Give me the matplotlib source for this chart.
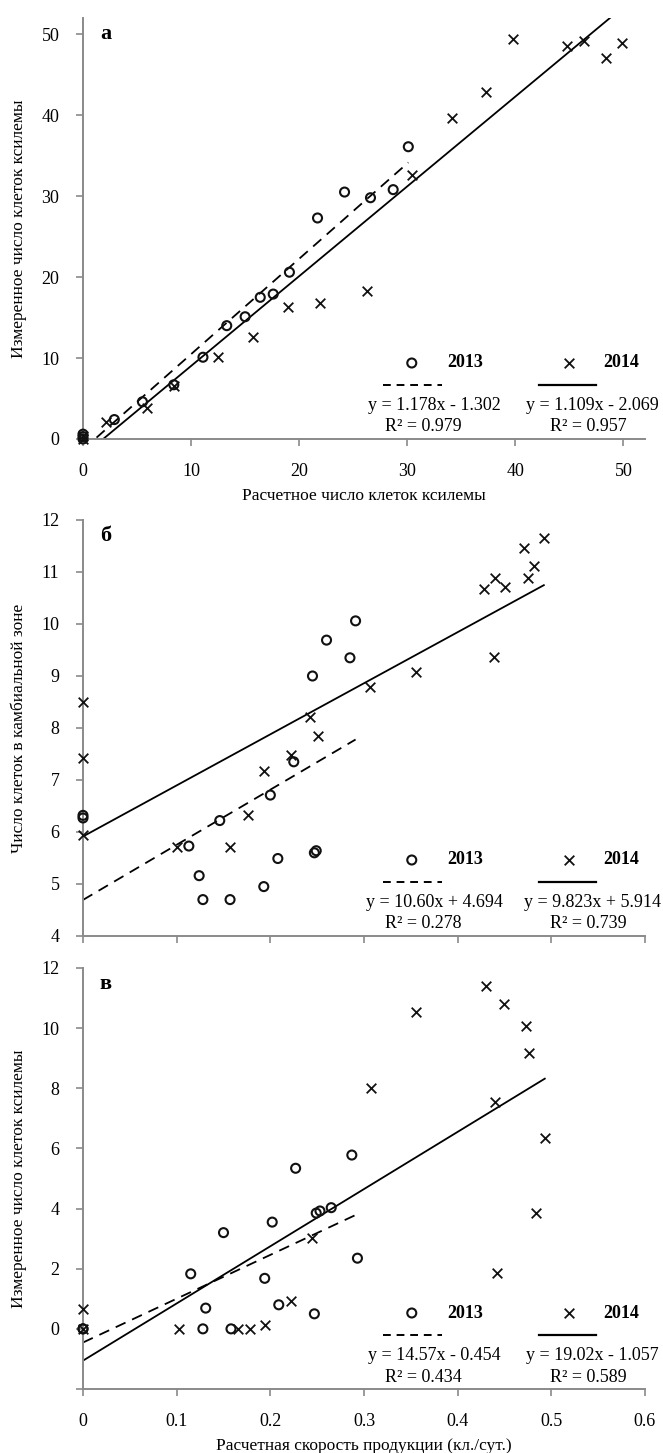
import matplotlib
matplotlib.use('Agg')
import matplotlib.pyplot as plt
import numpy as np

plt.rcParams['font.family'] = ['Liberation Serif', 'DejaVu Serif']

# ---------------- Panel а ----------------
a_x13 = [0, 0, 0, 2.9, 5.5, 8.4, 11.1, 13.3, 15.0, 16.4, 17.6, 19.1, 21.7, 24.2, 26.6, 28.7, 30.1]
a_y13 = [0, 0.3, 0.6, 2.4, 4.6, 6.7, 10.1, 14.0, 15.1, 17.5, 17.9, 20.6, 27.3, 30.5, 29.8, 30.8, 36.1]
a_x14 = [0, 0, 2.1, 5.9, 8.4, 12.5, 15.7, 19.0, 21.9, 26.3, 30.4, 34.1, 37.3, 39.8, 44.8, 46.4, 48.4, 49.9]
a_y14 = [0, 0.4, 2.1, 3.8, 6.5, 10.1, 12.6, 16.3, 16.8, 18.3, 32.6, 39.6, 42.9, 49.4, 48.6, 49.2, 47.0, 48.9]
a_coef13 = (1.178, -1.302)
a_coef14 = (1.109, -2.069)
a_eq13 = ["y = 1.178x - 1.302", "R² = 0.979"]
a_eq14 = ["y = 1.109x - 2.069", "R² = 0.957"]
a_xticks = [0, 10, 20, 30, 40, 50]
a_yticks = [0, 10, 20, 30, 40, 50]

# ---------------- Panel б ----------------
b_x13 = [0, 0, 0.113, 0.124, 0.128, 0.146, 0.157, 0.193, 0.200, 0.208, 0.225, 0.245, 0.247, 0.249, 0.260, 0.285, 0.291]
b_y13 = [6.27, 6.32, 5.73, 5.16, 4.70, 6.22, 4.70, 4.95, 6.71, 5.49, 7.35, 9.00, 5.60, 5.64, 9.69, 9.35, 10.06]
b_x14 = [0, 0, 0, 0.100, 0.157, 0.176, 0.193, 0.222, 0.242, 0.251, 0.306, 0.355, 0.428, 0.439, 0.440, 0.450, 0.471, 0.475, 0.482, 0.492]
b_y14 = [8.50, 7.43, 5.94, 5.71, 5.71, 6.33, 7.17, 7.49, 8.21, 7.84, 8.79, 9.08, 10.68, 9.37, 10.88, 10.71, 11.46, 10.88, 11.12, 11.66]
b_coef13 = (10.60, 4.694)
b_coef14 = (9.823, 5.914)
b_eq13 = ["y = 10.60x + 4.694", "R² = 0.278"]
b_eq14 = ["y = 9.823x + 5.914", "R² = 0.739"]
b_yticks = [4, 5, 6, 7, 8, 9, 10, 11, 12]

# ---------------- Panel в ----------------
c_x13 = [0, 0, 0.115, 0.131, 0.128, 0.150, 0.158, 0.194, 0.202, 0.209, 0.227, 0.247, 0.249, 0.253, 0.265, 0.287, 0.293]
c_y13 = [0, 0, 1.83, 0.69, 0.0, 3.20, 0.0, 1.68, 3.55, 0.80, 5.34, 0.50, 3.85, 3.92, 4.03, 5.78, 2.35]
c_x14 = [0, 0, 0.103, 0.165, 0.178, 0.194, 0.222, 0.244, 0.307, 0.356, 0.430, 0.440, 0.442, 0.449, 0.473, 0.476, 0.484, 0.493]
c_y14 = [0.67, 0, 0.0, 0.0, 0.0, 0.14, 0.91, 3.02, 8.02, 10.55, 11.39, 7.56, 1.87, 10.80, 10.07, 9.18, 3.85, 6.35]
c_coef13 = (14.57, -0.454)
c_coef14 = (19.02, -1.057)
c_eq13 = ["y = 14.57x - 0.454", "R² = 0.434"]
c_eq14 = ["y = 19.02x - 1.057", "R² = 0.589"]
c_yticks = [-2, 0, 2, 4, 6, 8, 10, 12]
c_yticklabels = ["", "0", "2", "4", "6", "8", "10", "12"]

bc_xticks = [0, 0.1, 0.2, 0.3, 0.4, 0.5, 0.6]
bc_xticklabels = ["0", "0.1", "0.2", "0.3", "0.4", "0.5", "0.6"]

years = ["2013", "2014"]
panel_labels = ["а", "б", "в"]

W, H = 663, 1453
fig = plt.figure(figsize=(W / 100, H / 100), dpi=100)

GRAY = '#8a8a8a'
TICK_FS = 13
LAB_FS = 12.5
LEG_FS = 13
YLAB_X = -0.10


def make_axes(top_px, bot_px, left_px=83, right_px=645):
    ax = fig.add_axes([left_px / W, 1 - bot_px / H, (right_px - left_px) / W, (bot_px - top_px) / H])
    for s in ['top', 'right']:
        ax.spines[s].set_visible(False)
    for s in ['left', 'bottom']:
        ax.spines[s].set_color(GRAY)
        ax.spines[s].set_linewidth(1.4)
    ax.tick_params(direction='out', length=5, width=1.2, color=GRAY, labelsize=TICK_FS, pad=12)
    ax.patch.set_alpha(0)
    return ax, (bot_px - top_px)


def draw(ax, hpx, x13, y13, x14, y14, c13, c14, eq13, eq14, label):
    ax.scatter(x13, y13, marker='o', s=42, facecolors='none', edgecolors='#111111', linewidths=1.5,
               clip_on=False, zorder=3)
    ax.scatter(x14, y14, marker='x', s=48, c='#111111', linewidths=1.3, clip_on=False, zorder=3)
    xs13 = np.linspace(0, max(x13), 200)
    xs14 = np.linspace(0, max(x14), 200)
    ax.plot(xs13, c13[0] * xs13 + c13[1], color='black', lw=1.3, ls=(0, (6, 4)), zorder=2)
    ax.plot(xs14, c14[0] * xs14 + c14[1], color='black', lw=1.3, zorder=2)
    ax.text(0.03, 0.985, label, transform=ax.transAxes, fontsize=16, fontweight='bold',
            ha='left', va='top')
    # legend (Excel-style trendline legend in lower right)
    T = ax.transAxes
    ym = 76 / hpx
    yl = 54 / hpx
    ye = 33 / hpx
    yr = 12 / hpx
    ax.scatter([0.585], [ym], transform=T, marker='o', s=42, facecolors='none',
               edgecolors='#111111', linewidths=1.5, clip_on=False)
    ax.scatter([0.865], [ym], transform=T, marker='x', s=48, c='#111111', linewidths=1.3, clip_on=False)
    ax.text(0.68, ym, years[0], transform=T, fontsize=LEG_FS, fontweight='bold', ha='center', va='center')
    ax.text(0.957, ym, years[1], transform=T, fontsize=LEG_FS, fontweight='bold', ha='center', va='center')
    ax.plot([0.534, 0.639], [yl, yl], transform=T, color='black', lw=1.4, ls=(0, (4, 3)), clip_on=False)
    ax.plot([0.811, 0.913], [yl, yl], transform=T, color='black', lw=1.6, clip_on=False)
    ax.text(0.626, ye, eq13[0], transform=T, fontsize=LEG_FS, ha='center', va='center')
    ax.text(0.605, yr, eq13[1], transform=T, fontsize=LEG_FS, ha='center', va='center')
    ax.text(0.906, ye, eq14[0], transform=T, fontsize=LEG_FS, ha='center', va='center')
    ax.text(0.899, yr, eq14[1], transform=T, fontsize=LEG_FS, ha='center', va='center')


# Panel а
axa, ha = make_axes(18, 439)
draw(axa, ha, a_x13, a_y13, a_x14, a_y14, a_coef13, a_coef14, a_eq13, a_eq14, panel_labels[0])
axa.set_xlim(0, 52)
axa.set_ylim(0, 52)
axa.set_xticks(a_xticks)
axa.set_yticks(a_yticks)
axa.set_xlabel("Расчетное число клеток ксилемы", fontsize=LAB_FS, labelpad=6)
axa.set_ylabel("Измеренное число клеток ксилемы", fontsize=LAB_FS)
axa.yaxis.set_label_coords(YLAB_X, 0.5)

# Panel б
axb, hb = make_axes(520, 936)
draw(axb, hb, b_x13, b_y13, b_x14, b_y14, b_coef13, b_coef14, b_eq13, b_eq14, panel_labels[1])
axb.set_xlim(0, 0.6)
axb.set_ylim(4, 12)
axb.set_xticks(bc_xticks)
axb.set_xticklabels([])
axb.set_yticks(b_yticks)
axb.set_ylabel("Число клеток в камбиальной зоне", fontsize=LAB_FS)
axb.yaxis.set_label_coords(YLAB_X, 0.5)

# Panel в
axc, hc = make_axes(968, 1389)
draw(axc, hc, c_x13, c_y13, c_x14, c_y14, c_coef13, c_coef14, c_eq13, c_eq14, panel_labels[2])
axc.set_xlim(0, 0.6)
axc.set_ylim(-2, 12)
axc.set_xticks(bc_xticks)
axc.set_xticklabels(bc_xticklabels)
axc.set_yticks(c_yticks)
axc.set_yticklabels(c_yticklabels)
axc.set_xlabel("Расчетная скорость продукции (кл./сут.)", fontsize=LAB_FS, labelpad=6)
axc.set_ylabel("Измеренное число клеток ксилемы", fontsize=LAB_FS)
axc.yaxis.set_label_coords(YLAB_X, 0.5)

fig.savefig('out.png', dpi=100)
